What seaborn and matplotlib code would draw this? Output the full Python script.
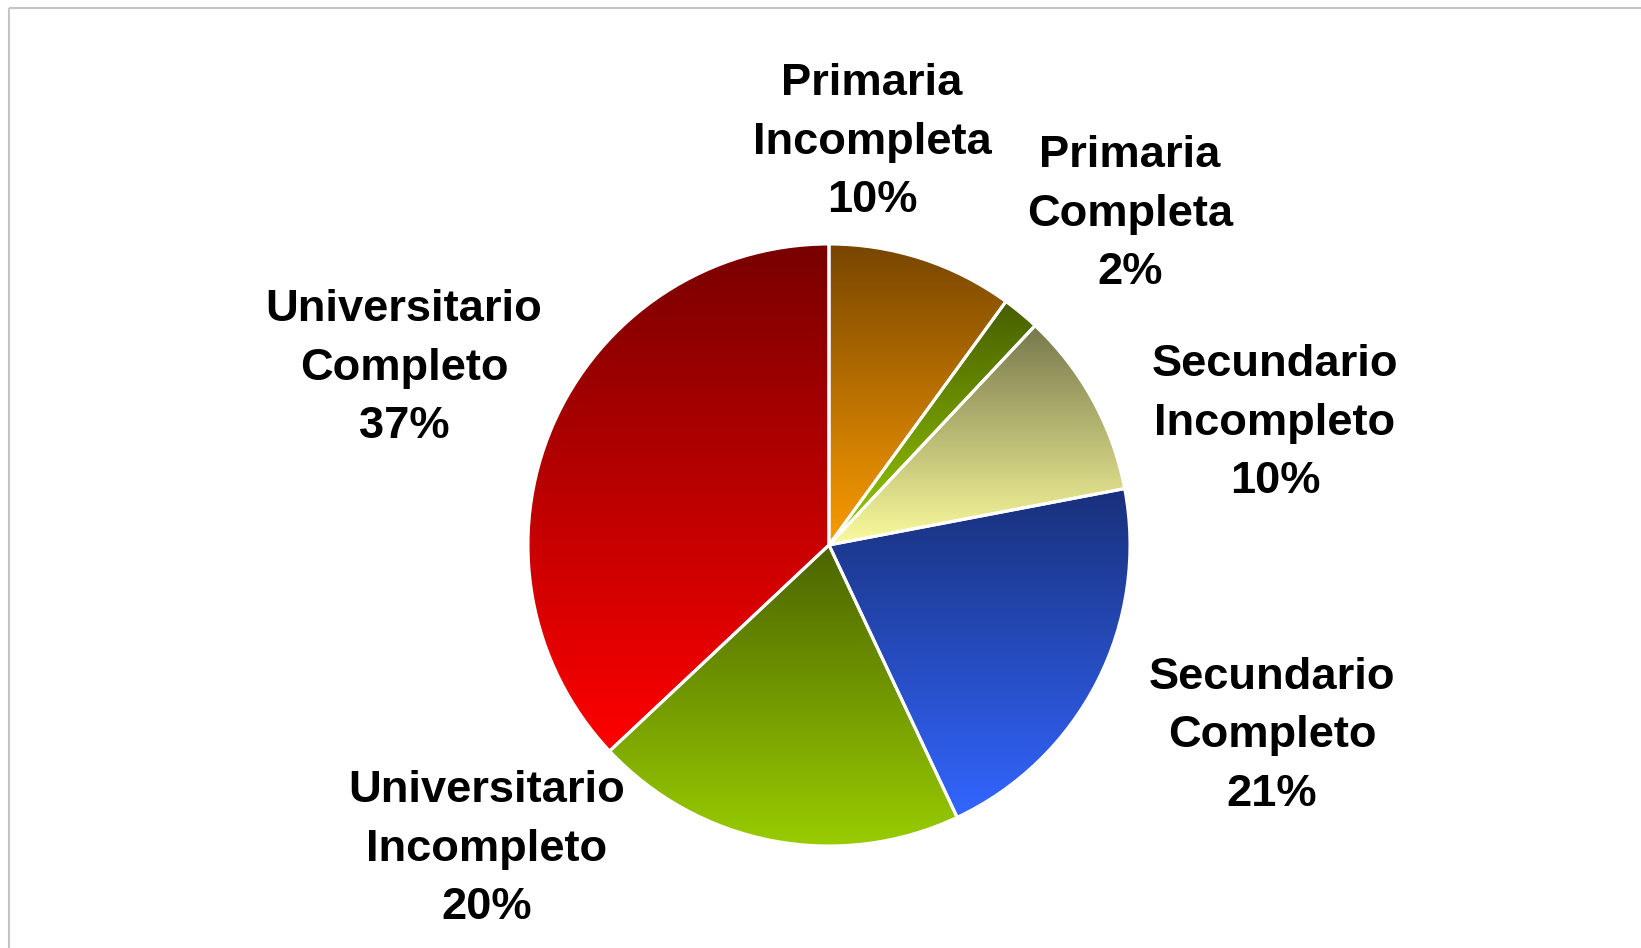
import numpy as np
import matplotlib
matplotlib.use("Agg")
import matplotlib.pyplot as plt
import matplotlib.colors as mcolors
import seaborn as sns

# ---- data ----
categories = ["Primaria\nIncompleta", "Primaria\nCompleta", "Secundario\nIncompleto",
              "Secundario\nCompleto", "Universitario\nIncompleto", "Universitario\nCompleto"]
values = [10, 2, 10, 21, 20, 37]
top_colors = ["#784600", "#475f00", "#77784d", "#19307a", "#4b6400", "#780000"]
bottom_colors = ["#fb9c00", "#99cc00", "#fbfb9c", "#3366ff", "#99cc00", "#ff0000"]

# label positions (figure pixel coords, y from top)
label_pos = [(872, 142), (1130, 214), (1275, 423), (1272, 736), (487, 849), (404, 368)]

W, H = 1641, 948
sns.set_theme(style="white")
plt.rcParams["font.family"] = ["Liberation Sans", "DejaVu Sans"]

fig = plt.figure(figsize=(W / 100, H / 100), dpi=100)
fig.patch.set_facecolor("white")
ax = fig.add_axes([0, 0, 1, 1])

cx, cy, R = 829, H - 545, 301
wedges, _ = ax.pie(values, startangle=90, counterclock=False, center=(cx, cy), radius=R,
                   colors=["none"] * len(values),
                   wedgeprops=dict(edgecolor="white", linewidth=2.2, zorder=3))

for w, c_top, c_bot in zip(wedges, top_colors, bottom_colors):
    t1, t2 = np.deg2rad(w.theta1), np.deg2rad(w.theta2)
    ang = np.linspace(t1, t2, 200)
    xs = np.concatenate([[cx], cx + R * np.cos(ang)])
    ys = np.concatenate([[cy], cy + R * np.sin(ang)])
    x0, x1, y0, y1 = xs.min(), xs.max(), ys.min(), ys.max()
    n = 256
    a = np.array(mcolors.to_rgb(c_top))
    b = np.array(mcolors.to_rgb(c_bot))
    t = np.linspace(0, 1, n)[:, None]
    grad = (a * (1 - t) + b * t)[:, None, :]
    im = ax.imshow(grad, extent=(x0, x1, y0, y1), origin="upper", aspect="auto",
                   interpolation="bilinear", zorder=2)
    im.set_clip_path(w)

for lab, v, (lx, ly) in zip(categories, values, label_pos):
    ax.text(lx, H - ly, f"{lab}\n{v}%", ha="center", va="center", multialignment="center",
            fontsize=32.6, fontweight="bold", color="black", linespacing=1.55, zorder=5)

ax.set_xlim(0, W)
ax.set_ylim(0, H)
ax.set_aspect("equal")
ax.set_autoscale_on(False)
ax.axis("off")

# frame lines (top and left only)
ax.plot([9, W], [H - 8, H - 8], color="#c4c4c4", lw=1.5, solid_capstyle="butt", zorder=6, clip_on=False)
ax.plot([9, 9], [H - 8, 0], color="#c4c4c4", lw=1.5, solid_capstyle="butt", zorder=6, clip_on=False)

fig.savefig("out.png", dpi=100, facecolor="white")
